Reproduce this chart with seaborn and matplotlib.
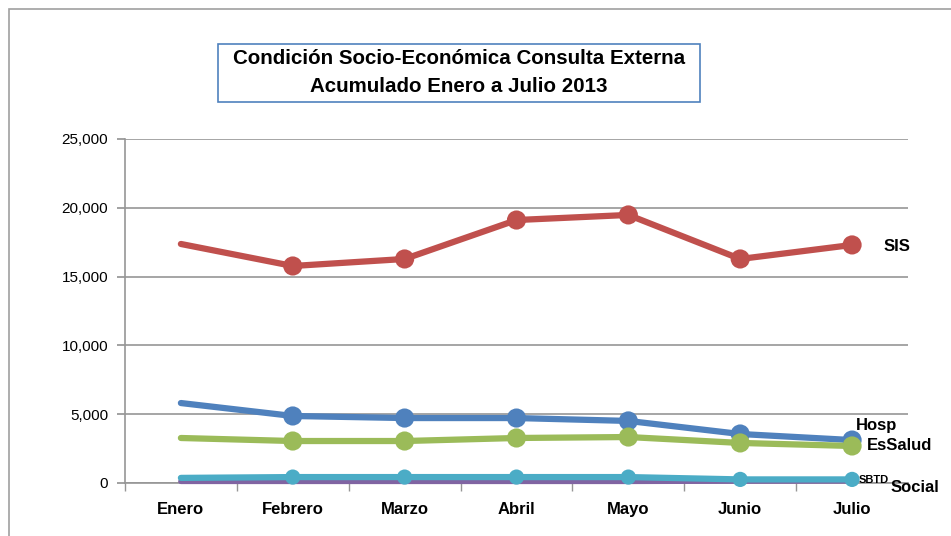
import matplotlib
matplotlib.use("Agg")
import matplotlib.pyplot as plt
import numpy as np
import pandas as pd
import seaborn as sns
from matplotlib.patches import Rectangle

months = ["Enero", "Febrero", "Marzo", "Abril", "Mayo", "Junio", "Julio"]
sis = [17370, 15770, 16280, 19110, 19480, 16280, 17300]
hosp = [5810, 4870, 4720, 4720, 4510, 3560, 3120]
essalud = [3270, 3050, 3050, 3270, 3340, 2910, 2690]
sbtd = [370, 430, 430, 430, 430, 260, 260]
social = [120, 120, 120, 120, 120, 140, 150]

series = {"SIS": sis, "Hosp": hosp, "EsSalud": essalud, "SBTD": sbtd, "Social": social}
colors = {"SIS": "#C0504D", "Hosp": "#4F81BD", "EsSalud": "#9BBB59",
          "SBTD": "#4BACC6", "Social": "#8064A2"}
draw_order = ["Social", "SBTD", "Hosp", "EsSalud", "SIS"]

rows = []
for name, vals in series.items():
    for i, v in enumerate(vals):
        rows.append({"serie": name, "pos": i, "mes": months[i], "valor": v})
df = pd.DataFrame(rows)

sns.set_theme(style="white")
plt.rcParams["font.family"] = ["Liberation Sans Narrow", "Liberation Sans", "DejaVu Sans"]
plt.rcParams["text.color"] = "black"
plt.rcParams["xtick.labelcolor"] = "black"
plt.rcParams["ytick.labelcolor"] = "black"

fig = plt.figure(figsize=(9.51, 5.36), dpi=100)
ax = fig.add_axes([0.1314, 0.0989, 0.8234, 0.6418])

# outer chart frame
fig.patches.append(Rectangle((9 / 951, -0.01), 1.0, 1 - 9 / 536 + 0.01,
                             transform=fig.transFigure, fill=False,
                             edgecolor="#A0A0A0", linewidth=1.2))

for name in draw_order:
    sub = df[df["serie"] == name]
    lw = 4.5 if name != "Social" else 4
    sns.lineplot(data=sub, x="pos", y="valor", color=colors[name], linewidth=lw,
                 ax=ax, legend=False, zorder=3, clip_on=False)
    pts = sub[sub["pos"] > 0]
    size = 190 if name in ("SIS", "Hosp", "EsSalud") else 120
    if name != "Social":
        sns.scatterplot(data=pts, x="pos", y="valor", color=colors[name], s=size,
                        edgecolor="none", ax=ax, legend=False, zorder=4, clip_on=False)

ax.set_xlim(-0.5, 6.5)
ax.set_ylim(0, 25000)
ax.set_yticks(np.arange(0, 25001, 5000))
ax.set_yticklabels([f"{int(v):,}" for v in np.arange(0, 25001, 5000)], fontsize=11)
ax.set_xticks(range(len(months)))
ax.set_xticklabels(months, fontsize=12, fontweight="bold")
ax.set_xlabel("")
ax.set_ylabel("")
ax.yaxis.grid(True, color="#969696", linewidth=1.2)
ax.set_axisbelow(True)
for side in ("top", "right"):
    ax.spines[side].set_visible(False)
ax.spines["left"].set_color("#969696")
ax.spines["bottom"].set_color("#969696")
ax.spines["left"].set_linewidth(1.2)
ax.spines["bottom"].set_linewidth(1.2)
ax.tick_params(axis="x", length=0, pad=14)
ax.tick_params(axis="y", length=6, color="#969696", left=True, pad=6)
# minor ticks between categories on x axis
ax.set_xticks(np.arange(-0.5, 7, 1), minor=True)
ax.tick_params(axis="x", which="minor", length=6, color="#969696", bottom=True)

# series labels at the right end
lbl = dict(fontweight="bold", color="black")
ax.text(6.28, 17200, "SIS", fontsize=12, va="center", **lbl)
ax.text(6.03, 4150, "Hosp", fontsize=12, va="center", **lbl)
ax.text(6.13, 2700, "EsSalud", fontsize=12, va="center", **lbl)
ax.text(6.06, 220, "SBTD", fontsize=8, va="center", **lbl)
ax.text(6.34, -300, "Social", fontsize=12, va="center", **lbl, clip_on=False)

# title box
fig.patches.append(Rectangle((218 / 951, 1 - 102 / 536), 482 / 951, 58 / 536,
                             transform=fig.transFigure, fill=True, facecolor="white",
                             edgecolor="#4F81BD", linewidth=1.2))
fig.text(459 / 951, 1 - 59 / 536, "Condición Socio-Económica Consulta Externa",
         ha="center", va="center", fontsize=14.8, fontweight="bold", color="black")
fig.text(459 / 951, 1 - 87 / 536, "Acumulado Enero a Julio 2013",
         ha="center", va="center", fontsize=14.8, fontweight="bold", color="black")

fig.savefig("out.png", dpi=100)
